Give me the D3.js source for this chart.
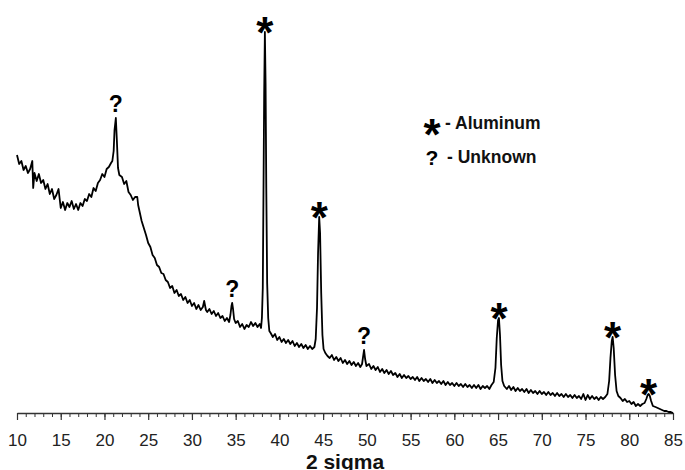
<!DOCTYPE html>
<html>
<head>
<meta charset="utf-8">
<script src="https://cdn.jsdelivr.net/npm/d3@7/dist/d3.min.js"></script>
<style>
  body { margin: 0; background: #fff; }
  svg { display: block; }
  text { font-family: "Liberation Sans", Arial, sans-serif; }
</style>
</head>
<body>
<div id="chart"></div>
<script>
// XRD pattern, 2 sigma vs intensity (arbitrary units)
var pattern = [
  [10.00,258],[10.25,249],[10.50,252],[10.75,243],[11.00,247],[11.25,240],[11.50,244],[11.75,252],[11.85,225],
  [12.00,240],[12.25,232],[12.50,239],[12.75,230],[13.00,233],[13.25,224],[13.50,229],[13.75,219],[14.00,224],
  [14.25,214],[14.50,218],[14.75,224],[15.00,205],[15.25,211],[15.50,203],[15.75,210],[16.00,206],[16.25,212],
  [16.50,204],[16.75,209],[17.00,203],[17.25,210],[17.50,207],[17.75,214],[18.00,212],[18.25,219],[18.50,216],
  [18.75,225],[19.00,222],[19.25,230],[19.50,233],[19.75,239],[20.00,236],[20.25,244],[20.50,246],[20.75,250],
  [20.90,252],[21.05,262],[21.15,283],[21.30,295],[21.42,272],[21.55,245],[21.70,238],
  [22.00,236],[22.25,229],[22.50,232],[22.75,221],[23.00,218],[23.25,213],[23.50,216],[23.75,216],[23.85,208],
  [24.00,202],[24.25,192],[24.50,185],[24.75,178],[25.00,170],[25.25,166],[25.50,158],[25.75,155],[26.00,148],
  [26.25,146],[26.50,140],[26.75,139],[27.00,133],[27.25,131],[27.50,125],[27.75,127],[28.00,120],[28.25,123],
  [28.50,117],[28.75,119],[29.00,113],[29.25,116],[29.50,110],[29.75,113],[30.00,107],[30.25,110],[30.50,104],
  [30.75,108],[31.00,103],[31.25,106],[31.40,112],[31.60,103],[31.75,101],[32.00,104],[32.25,99],[32.50,102],
  [32.75,97],[33.00,100],[33.25,95],[33.50,97],[33.75,92],[34.00,95],[34.25,91],
  [34.40,98],[34.52,107],[34.60,110],[34.70,104],[34.82,94],
  [35.00,90],[35.25,92],[35.50,86],[35.75,89],[36.00,84],[36.25,88],[36.50,86],[36.75,91],[37.00,87],
  [37.25,90],[37.50,86],[37.75,89],[37.90,85],
  [38.00,95],[38.10,125],[38.18,220],[38.26,320],[38.34,381],[38.42,330],[38.50,225],[38.60,130],[38.72,95],[38.85,82],
  [39.00,80],[39.25,76],[39.50,79],[39.75,73],[40.00,76],[40.25,71],[40.50,74],[40.75,70],[41.00,73],
  [41.25,69],[41.50,72],[41.75,67],[42.00,70],[42.25,66],[42.50,69],[42.75,65],[43.00,68],[43.25,64],
  [43.50,67],[43.75,64],[44.00,66],
  [44.15,74],[44.30,105],[44.42,160],[44.55,196],[44.65,180],[44.78,120],[44.92,78],[45.05,64],
  [45.25,60],[45.50,57],[45.75,55],[46.00,58],[46.25,53],[46.50,56],[46.75,52],[47.00,55],[47.25,50],
  [47.50,53],[47.75,49],[48.00,52],[48.25,48],[48.50,51],[48.75,47],[49.00,50],[49.25,46],
  [49.45,49],[49.58,57],[49.68,63],[49.80,54],[49.95,47],
  [50.25,49],[50.50,44],[50.75,47],[51.00,43],[51.25,46],[51.50,41],[51.75,44],[52.00,40],[52.25,43],
  [52.50,39],[52.75,42],[53.00,38],[53.25,40],[53.50,36],[53.75,39],[54.00,35],[54.25,38],[54.50,35],
  [54.75,37],[55.00,34],[55.25,36],[55.50,33],[55.75,36],[56.00,32],[56.25,35],[56.50,32],[56.75,34],
  [57.00,31],[57.25,34],[57.50,30],[57.75,33],[58.00,30],[58.25,32],[58.50,29],[58.75,32],[59.00,28],
  [59.25,31],[59.50,28],[59.75,30],[60.00,27],[60.25,30],[60.50,27],[60.75,29],[61.00,26],[61.25,29],
  [61.50,26],[61.75,28],[62.00,25],[62.25,28],[62.50,25],[62.75,28],[63.00,24],[63.25,27],[63.50,25],
  [63.75,27],[64.00,24],[64.25,28],
  [64.50,31],[64.70,45],[64.85,75],[65.00,93],[65.10,95],[65.22,78],[65.35,48],[65.50,32],[65.70,27],
  [66.00,24],[66.25,27],[66.50,23],[66.75,26],[67.00,22],[67.25,25],[67.50,22],[67.75,24],[68.00,21],
  [68.25,24],[68.50,20],[68.75,23],[69.00,20],[69.25,22],[69.50,19],[69.75,22],[70.00,19],[70.25,21],
  [70.50,18],[70.75,21],[71.00,18],[71.25,20],[71.50,17],[71.75,20],[72.00,17],[72.25,19],[72.50,16],
  [72.75,19],[73.00,16],[73.25,18],[73.50,15],[73.75,18],[74.00,15],[74.25,17],[74.50,14],[74.75,19],
  [75.00,13],[75.25,18],[75.50,14],[75.75,17],[76.00,14],[76.25,16],[76.50,13],[76.75,16],[77.00,14],
  [77.25,16],
  [77.50,19],[77.70,32],[77.85,55],[78.00,72],[78.10,76],[78.22,65],[78.38,38],[78.55,22],[78.75,17],
  [79.00,15],[79.25,12],[79.50,14],[79.75,11],[80.00,12],[80.25,9],[80.50,11],[80.75,7],[81.00,9],
  [81.25,7],[81.50,9],
  [81.75,10],[81.95,14],[82.10,18],[82.22,19],[82.35,17],[82.50,12],[82.70,7],
  [83.00,6],[83.25,5],[83.50,4],[83.75,3],[84.00,2],[84.25,2],[84.50,1],[84.75,1],[85.00,0]
];

// peak markers: position and symbol
var peakAngles = [21.30, 34.60, 38.34, 44.55, 49.68, 65.10, 78.10, 82.22];
var peakMarks  = ["?", "?", "*", "*", "?", "*", "*", "*"];

var majorTicks = [10, 15, 20, 25, 30, 35, 40, 45, 50, 55, 60, 65, 70, 75, 80, 85];
var minorTicks = d3.range(10, 86, 1);

var legendMarks  = ["*", "?"];
var legendLabels = ["- Aluminum", "- Unknown"];

var width = 685, height = 470;

var svg = d3.select("#chart").append("svg")
  .attr("width", width)
  .attr("height", height);

var x = d3.scaleLinear().domain([10, 85]).range([17, 673]);
var y = d3.scaleLinear().domain([0, 400]).range([413, 13]);

// minor ticks
svg.append("g")
  .attr("transform", "translate(0," + y(0) + ")")
  .call(d3.axisBottom(x).tickValues(minorTicks).tickSize(4).tickSizeOuter(0).tickFormat(""))
  .call(function(g) { g.select(".domain").remove(); })
  .selectAll("line").attr("stroke", "#333").attr("stroke-width", 1);

// major ticks + labels
var ax = svg.append("g")
  .attr("transform", "translate(0," + y(0) + ")")
  .call(d3.axisBottom(x).tickValues(majorTicks).tickSize(7).tickSizeOuter(0).tickPadding(14));
ax.select(".domain").attr("stroke", "#333").attr("stroke-width", 1.6);
ax.selectAll(".tick line").attr("stroke", "#333").attr("stroke-width", 1.2);
ax.selectAll(".tick text")
  .attr("font-family", "'Liberation Sans', Arial, sans-serif")
  .attr("font-size", 17)
  .attr("fill", "#222");

svg.append("text")
  .attr("x", (x(10) + x(85)) / 2)
  .attr("y", 469)
  .attr("text-anchor", "middle")
  .attr("font-size", 21)
  .attr("font-weight", "bold")
  .attr("fill", "#111")
  .text("2 sigma");

var line = d3.line()
  .x(function(d) { return x(d[0]); })
  .y(function(d) { return y(d[1]); });

svg.append("path")
  .datum(pattern)
  .attr("d", line)
  .attr("fill", "none")
  .attr("stroke", "#000")
  .attr("stroke-width", 1.8)
  .attr("stroke-linejoin", "round");

// marks above peaks
function peakValue(a) {
  var best = pattern[0];
  pattern.forEach(function(p) { if (Math.abs(p[0] - a) < Math.abs(best[0] - a)) best = p; });
  return best[1];
}

function markText(sel, qSize) {
  sel.attr("text-anchor", "middle")
    .attr("font-weight", "bold")
    .attr("fill", "#000")
    .attr("font-size", function(d) { return d === "*" ? 44 : qSize; })
    .text(function(d) { return d; });
}

// glyph centre -> baseline offset
function markShift(m) { return m === "*" ? 26 : 8; }

svg.append("g").selectAll("text")
  .data(peakMarks)
  .join("text")
  .attr("x", function(d, i) { return x(peakAngles[i]); })
  .attr("y", function(d, i) {
    var top = y(peakValue(peakAngles[i]));
    return top - (d === "*" ? 10 : 14) + markShift(d);
  })
  .call(markText, 23);

// legend
var lg = svg.append("g");
lg.selectAll("text.mk")
  .data(legendMarks)
  .join("text")
  .attr("class", "mk")
  .attr("x", 432)
  .attr("y", function(d, i) { return (i === 0 ? 124 : 157) + markShift(d); })
  .call(markText, 21);
lg.selectAll("text.lb")
  .data(legendLabels)
  .join("text")
  .attr("class", "lb")
  .attr("x", function(d, i) { return i === 0 ? 445 : 447; })
  .attr("y", function(d, i) { return i === 0 ? 129 : 163; })
  .attr("font-size", 17.5)
  .attr("font-weight", "bold")
  .attr("fill", "#111")
  .text(function(d) { return d; });
</script>
</body>
</html>
